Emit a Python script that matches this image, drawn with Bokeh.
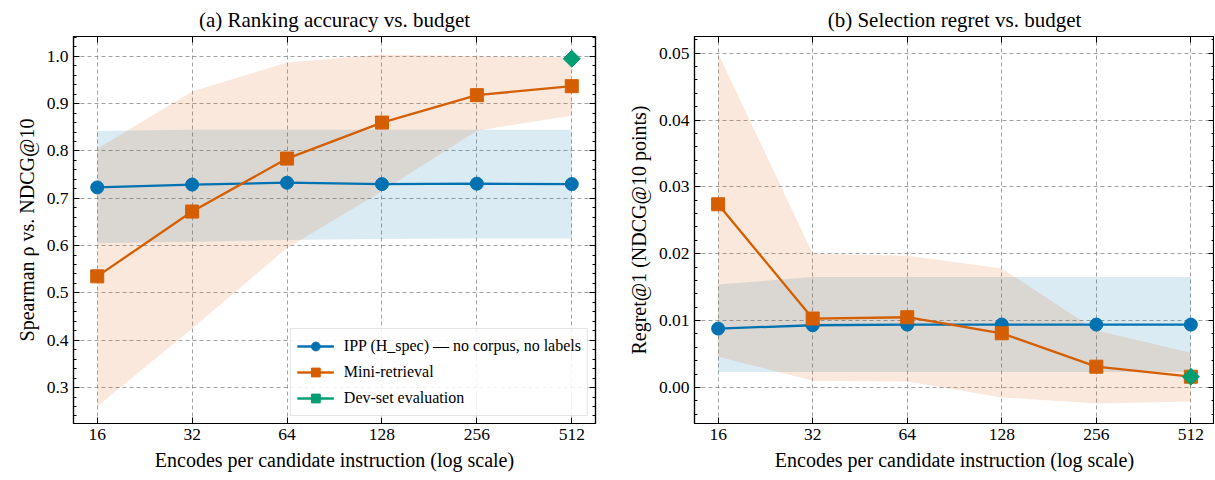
from bokeh.plotting import figure
from bokeh.layouts import row
from bokeh.models import (FixedTicker, PrintfTickFormatter, LinearAxis, LogAxis,
                          Range1d, Legend, LegendItem, CustomLabelingPolicy)
from bokeh.embed import file_html
from bokeh.resources import INLINE

# ---------------- data ----------------
budgets = [16, 32, 64, 128, 256, 512]
budget_labels = ["16", "32", "64", "128", "256", "512"]

# (a) Spearman rho vs NDCG@10
ipp_rho = [0.723, 0.729, 0.733, 0.730, 0.731, 0.730]
ipp_rho_lo = [0.605, 0.608, 0.612, 0.614, 0.615, 0.615]
ipp_rho_hi = [0.842, 0.845, 0.845, 0.845, 0.845, 0.845]
mini_rho = [0.535, 0.672, 0.784, 0.860, 0.918, 0.937]
mini_rho_lo = [0.260, 0.425, 0.595, 0.715, 0.843, 0.875]
mini_rho_hi = [0.805, 0.926, 0.987, 1.004, 1.000, 0.998]
dev_budget = [512]
dev_rho = [0.995]

# (b) Regret@1
ipp_reg = [0.0088, 0.0093, 0.0094, 0.0094, 0.0094, 0.0094]
ipp_reg_lo = [0.0023, 0.0023, 0.0023, 0.0023, 0.0023, 0.0023]
ipp_reg_hi = [0.0154, 0.0165, 0.0165, 0.0165, 0.0165, 0.0165]
mini_reg = [0.0274, 0.0103, 0.0105, 0.0081, 0.0031, 0.0016]
mini_reg_lo = [0.0046, 0.0010, 0.0009, -0.0015, -0.0024, -0.0021]
mini_reg_hi = [0.0500, 0.0200, 0.0197, 0.0178, 0.0085, 0.0052]
dev_reg = [0.0016]

rho_ticks = [0.3, 0.4, 0.5, 0.6, 0.7, 0.8, 0.9, 1.0]
reg_ticks = [0.00, 0.01, 0.02, 0.03, 0.04, 0.05]

BLUE = "#0072B2"
ORANGE = "#D55E00"
GREEN = "#009E73"
FONT = "Liberation Serif"

NO_LABELS = "for (const i of Array.from(indices)) indices.unset(i); return indices"


def style_axis(ax, labels=True):
    ax.major_tick_in = 6
    ax.major_tick_out = 0
    ax.minor_tick_in = 3
    ax.minor_tick_out = 0
    ax.axis_line_color = "black"
    ax.axis_line_width = 1.2
    ax.major_tick_line_color = "black"
    ax.minor_tick_line_color = "black"
    ax.major_label_text_font = FONT
    ax.major_label_text_color = "black"
    ax.axis_label_text_font = FONT
    ax.axis_label_text_font_size = "20px"
    ax.axis_label_text_font_style = "normal"
    ax.axis_label_text_color = "black"
    ax.axis_label_standoff = 6
    if labels:
        ax.major_label_text_font_size = "17.5px"
        ax.major_label_standoff = 5
    else:
        ax.major_label_text_font_size = "0px"
        ax.major_label_standoff = 0
        ax.major_label_policy = CustomLabelingPolicy(code=NO_LABELS)


def make_fig(title, ylabel, yrange, yticks, yminor, yfmt, width, bl, br):
    p = figure(width=width, height=476, x_axis_type="log",
               x_range=Range1d(2 ** 3.75, 2 ** 9.25),
               y_range=Range1d(*yrange),
               output_backend="svg", toolbar_location=None,
               min_border_left=bl, min_border_right=br,
               min_border_top=0, min_border_bottom=53)
    p.title.text = title
    p.title.text_font = FONT
    p.title.text_font_size = "21px"
    p.title.text_font_style = "normal"
    p.title.align = "center"
    p.title.text_color = "black"
    p.outline_line_color = "black"
    p.outline_line_width = 1.2

    xt = FixedTicker(ticks=budgets, minor_ticks=[])
    yt = FixedTicker(ticks=yticks, minor_ticks=yminor)
    overrides = {b: l for b, l in zip(budgets, budget_labels)}

    p.xaxis.ticker = xt
    p.xaxis.major_label_overrides = overrides
    p.xaxis.axis_label = "Encodes per candidate instruction (log scale)"
    p.yaxis.ticker = yt
    p.yaxis.formatter = PrintfTickFormatter(format=yfmt)
    p.yaxis.axis_label = ylabel
    for ax in p.xaxis + p.yaxis:
        style_axis(ax)

    top = LogAxis(ticker=xt)
    right = LinearAxis(ticker=yt)
    style_axis(top, labels=False)
    style_axis(right, labels=False)
    p.add_layout(top, "above")
    p.add_layout(right, "right")

    p.xgrid.ticker = xt
    p.ygrid.ticker = yt
    for g in (p.xgrid, p.ygrid):
        g.grid_line_color = "#8a8a8a"
        g.grid_line_dash = "4 3"
        g.grid_line_alpha = 0.8
        g.grid_line_width = 1
    return p


rho_minor = [round(0.22 + 0.02 * i, 2) for i in range(42)]
reg_minor = [round(-0.004 + 0.002 * i, 4) for i in range(30)]

p1 = make_fig("(a) Ranking accuracy vs. budget", "Spearman ρ vs. NDCG@10",
              (0.224, 1.042), rho_ticks, rho_minor, "%.1f", 608, 73, 13)
p2 = make_fig("(b) Selection regret vs. budget", "Regret@1 (NDCG@10 points)",
              (-0.0054, 0.0525), reg_ticks, reg_minor, "%.2f", 606, 86, 0)


def draw(p, ipp, lo1, hi1, mini, lo2, hi2, dev, legend=False):
    p.varea(x=budgets, y1=lo1, y2=hi1, fill_color=BLUE, fill_alpha=0.14)
    p.varea(x=budgets, y1=lo2, y2=hi2, fill_color=ORANGE, fill_alpha=0.14)
    l1 = p.line(budgets, ipp, line_color=BLUE, line_width=2.3)
    s1 = p.scatter(budgets, ipp, marker="circle", size=13, fill_color=BLUE,
                   line_color=BLUE)
    l2 = p.line(budgets, mini, line_color=ORANGE, line_width=2.3)
    s2 = p.scatter(budgets, mini, marker="square", size=13, fill_color=ORANGE,
                   line_color=ORANGE)
    l3 = p.line(dev_budget, dev, line_color=GREEN, line_width=2.3)
    s3 = p.scatter(dev_budget, dev, marker="square", angle=0.7853981634,
                   size=12, fill_color=GREEN, line_color=GREEN)
    if legend:
        leg = Legend(items=[
            LegendItem(label="IPP (H_spec) — no corpus, no labels", renderers=[l1, s1]),
            LegendItem(label="Mini-retrieval", renderers=[l2, s2]),
            LegendItem(label="Dev-set evaluation", renderers=[l3, s3]),
        ], location="bottom_right")
        leg.label_text_font = FONT
        leg.label_text_font_size = "16px"
        leg.label_text_color = "black"
        leg.border_line_color = "#cccccc"
        leg.border_line_width = 1.5
        leg.background_fill_alpha = 0.85
        leg.glyph_width = 37
        leg.glyph_height = 22
        leg.spacing = 4
        leg.padding = 6
        leg.margin = 7
        leg.label_standoff = 10
        p.add_layout(leg)


draw(p1, ipp_rho, ipp_rho_lo, ipp_rho_hi, mini_rho, mini_rho_lo, mini_rho_hi,
     dev_rho, legend=True)
draw(p2, ipp_reg, ipp_reg_lo, ipp_reg_hi, mini_reg, mini_reg_lo, mini_reg_hi,
     dev_reg)

layout = row(p1, p2)
open("out.html", "w").write(file_html(layout, INLINE))
